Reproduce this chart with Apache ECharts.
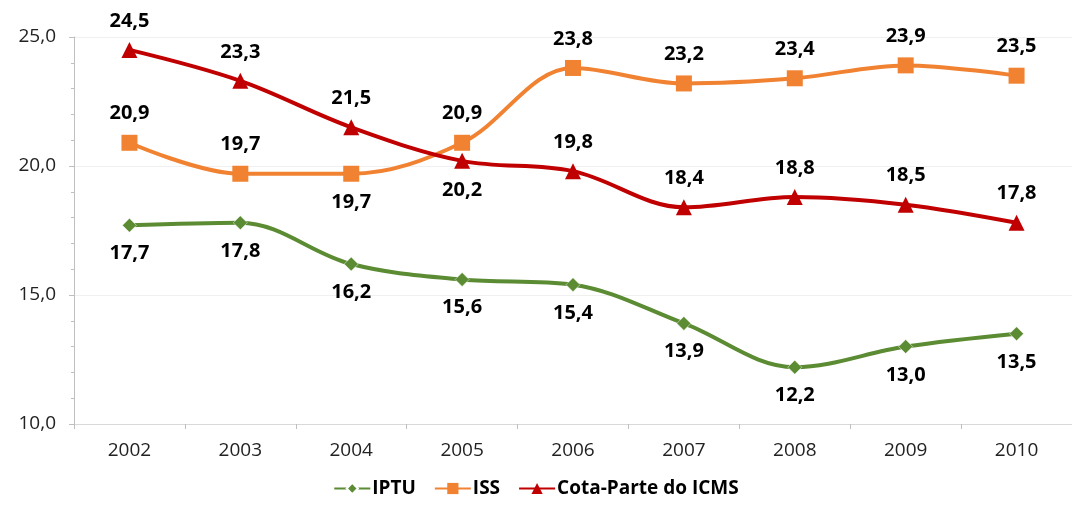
<!DOCTYPE html>
<html>
<head>
<meta charset="utf-8">
<script src="https://cdn.jsdelivr.net/npm/echarts@6/dist/echarts.min.js"></script>
<style>
    html, body { margin: 0; padding: 0; background: #ffffff; }
    #chart { width: 1072px; height: 505px; }
</style>
</head>
<body>
<div id="chart"></div>
<script>
// dados
var anos = ['2002', '2003', '2004', '2005', '2006', '2007', '2008', '2009', '2010'];
var iptu = [17.7, 17.8, 16.2, 15.6, 15.4, 13.9, 12.2, 13.0, 13.5];
var iss = [20.9, 19.7, 19.7, 20.9, 23.8, 23.2, 23.4, 23.9, 23.5];
var icms = [24.5, 23.3, 21.5, 20.2, 19.8, 18.4, 18.8, 18.5, 17.8];
// rotulos abaixo do ponto
var issAbaixo = ['2004'];
var icmsAbaixo = ['2005'];

var fonte = '"Open Sans", "Liberation Sans", sans-serif';
var fmt = function (v) { return v.toFixed(1).replace('.', ','); };

function pontos(vals, abaixo) {
    return vals.map(function (v, i) {
        var baixo = abaixo === true || (abaixo && abaixo.indexOf(anos[i]) >= 0);
        return { value: v, label: { position: baixo ? 'bottom' : 'top' } };
    });
}

var labelBase = {
    show: true,
    distance: 11,
    color: '#000000',
    fontFamily: fonte,
    fontWeight: 'bold',
    fontSize: 20,
    formatter: function (p) { return fmt(p.value); }
};

var chart = echarts.init(document.getElementById('chart'));
chart.setOption({
    backgroundColor: '#ffffff',
    animation: false,
    grid: { left: 74, right: -6, top: 37, bottom: 81 },
    legend: {
        bottom: 2,
        left: 'center',
        itemWidth: 36,
        itemHeight: 14,
        itemGap: 18,
        textStyle: { fontFamily: fonte, fontWeight: 'bold', fontSize: 19, color: '#000', padding: [0, 0, 0, -3] },
        data: ['IPTU', 'ISS', 'Cota-Parte do ICMS']
    },
    xAxis: {
        type: 'category',
        data: anos,
        boundaryGap: true,
        axisLine: { lineStyle: { color: '#D9D9D9', width: 1 } },
        axisTick: { show: true, length: 5, lineStyle: { color: '#BFBFBF' } },
        axisLabel: { color: '#222', fontFamily: fonte, fontSize: 19, margin: 17 }
    },
    yAxis: {
        type: 'value',
        min: 10,
        max: 25,
        interval: 5,
        axisLine: { show: true, lineStyle: { color: '#BFBFBF', width: 1 } },
        axisTick: { show: true, length: 5, lineStyle: { color: '#BFBFBF' } },
        minorTick: { show: true, splitNumber: 5, length: 3, lineStyle: { color: '#BFBFBF' } },
        splitLine: { lineStyle: { color: '#F0F0F0' } },
        axisLabel: { color: '#222', fontFamily: fonte, fontSize: 19, margin: 18, formatter: fmt }
    },
    series: [
        {
            name: 'IPTU',
            type: 'line',
            smooth: 0.35,
            data: pontos(iptu, true),
            symbol: 'diamond',
            symbolSize: 14,
            lineStyle: { width: 4, color: '#5B8B32' },
            itemStyle: { color: '#5B8B32', borderColor: '#ffffff', borderWidth: 0.5 },
            label: labelBase
        },
        {
            name: 'ISS',
            type: 'line',
            smooth: 0.35,
            data: pontos(iss, issAbaixo),
            symbol: 'rect',
            symbolSize: 16,
            lineStyle: { width: 4, color: '#F08232' },
            itemStyle: { color: '#F08232' },
            label: labelBase
        },
        {
            name: 'Cota-Parte do ICMS',
            type: 'line',
            smooth: 0.35,
            data: pontos(icms, icmsAbaixo),
            symbol: 'triangle',
            symbolSize: 16,
            lineStyle: { width: 4, color: '#C00000' },
            itemStyle: { color: '#C00000' },
            label: labelBase
        }
    ]
});
</script>
</body>
</html>
